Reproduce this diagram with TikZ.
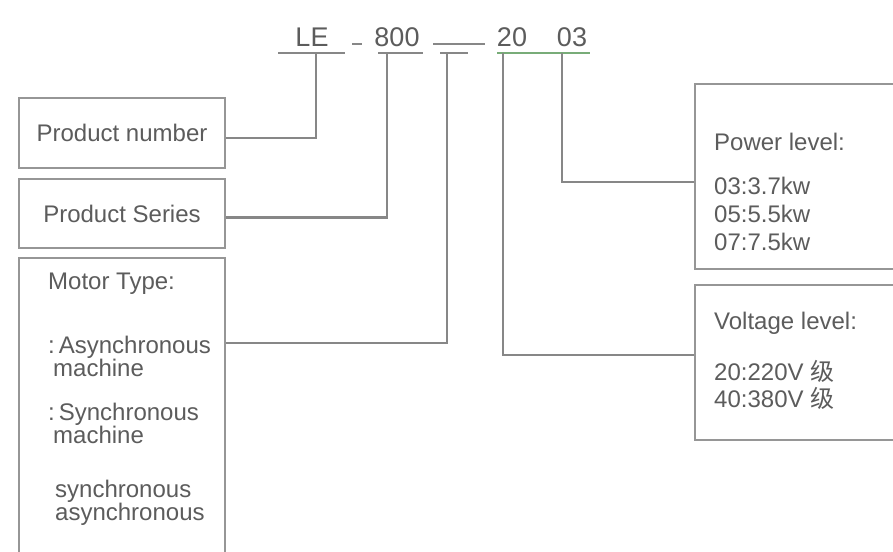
\documentclass[tikz,border=0pt]{standalone}
\usepackage{fontspec}
\setmainfont{Liberation Sans}
\newfontfamily\cjk{Noto Sans CJK SC}
\definecolor{txtGray}{RGB}{92, 92, 92}
\definecolor{lineGray}{RGB}{135, 135, 135}
\definecolor{boxGray}{RGB}{150, 150, 150}
\definecolor{codeGreen}{RGB}{120, 172, 120}
\usetikzlibrary{positioning}

\tikzset{
  infobox/.style={draw=boxGray, line width=2pt, anchor=north west, inner sep=0pt,
    minimum width=206pt, text=txtGray, font=\fontsize{24}{27}\selectfont},
  infotext/.style={anchor=north west, inner sep=0pt, align=left, text=txtGray},
  codetext/.style={anchor=base, inner sep=0pt, text=txtGray, font=\fontsize{27}{30}\selectfont},
  link/.style={draw=lineGray, line width=2.4pt},
}

\begin{document}
\begin{tikzpicture}[x=1pt, y=-1pt]
    \useasboundingbox[fill=white] (0,0) rectangle (893,551);

    % code on top
    \node[codetext] (le) at (312,47) {LE};
    \node[codetext] (ser) at (397,47) {800};
    \node[codetext] (volt) at (512,47) {20};
    \node[codetext] (pow) at (572,47) {03};
    \draw[link, line width=1.6pt] (352,44) -- (362,44);
    \draw[link, line width=1.6pt] (433,44) -- (485,44);

    % underlines
    \draw[link] (278,53) -- (345,53);
    \draw[link] (378,53) -- (423,53);
    \draw[link] (440,53) -- (468,53);
    \draw[link, draw=codeGreen] (497,53) -- (590,53);
    \coordinate (leTick) at (316,53);
    \coordinate (serTick) at (387,53);
    \coordinate (motTick) at (447,53);
    \coordinate (voltTick) at (503,53);
    \coordinate (powTick) at (562,53);

    % left boxes
    \node[infobox, minimum height=70pt] (pnum) at (18,97) {Product number};
    \node[infobox, minimum height=69pt] (pser) at (18,178) {Product Series};
    \node[infobox, minimum height=320pt] (mtype) at (18,257) {};
    \node[infotext, font=\fontsize{24}{23.5}\selectfont] (mtext) at (48,273) {Motor Type:\\[40pt]
      :\,Asynchronous\\
      \hspace*{5pt}machine\\[20pt]
      :\,Synchronous\\
      \hspace*{5pt}machine\\[30pt]
      \hspace*{7pt}synchronous\\
      \hspace*{7pt}asynchronous};

    % right boxes
    \node[infobox, minimum width=220pt, minimum height=185pt] (pwr) at (694,83) {};
    \node[infotext, font=\fontsize{24}{28}\selectfont] (ptext) at (714,133) {Power level:\\[16pt]
      03:3.7kw\\ 05:5.5kw\\ 07:7.5kw};
    \node[infobox, minimum width=220pt, minimum height=155pt] (vlt) at (694,284) {};
    \node[infotext, font=\fontsize{24}{27}\selectfont] (vtext) at (714,312) {Voltage level:\\[24pt]
      20:220V {\cjk 级}\\ 40:380V {\cjk 级}};

    % connectors
    \draw[link] (leTick) |- ([yshift=-5pt]pnum.east);
    \draw[link] (serTick) |- ([yshift=-4pt]pser.east);
    \draw[link] (motTick) |- ([yshift=-86pt]mtype.north east);
    \draw[link] (voltTick) |- ([yshift=-71pt]vlt.north west);
    \draw[link] (powTick) |- ([yshift=-99pt]pwr.north west);
  \end{tikzpicture}
\end{document}
